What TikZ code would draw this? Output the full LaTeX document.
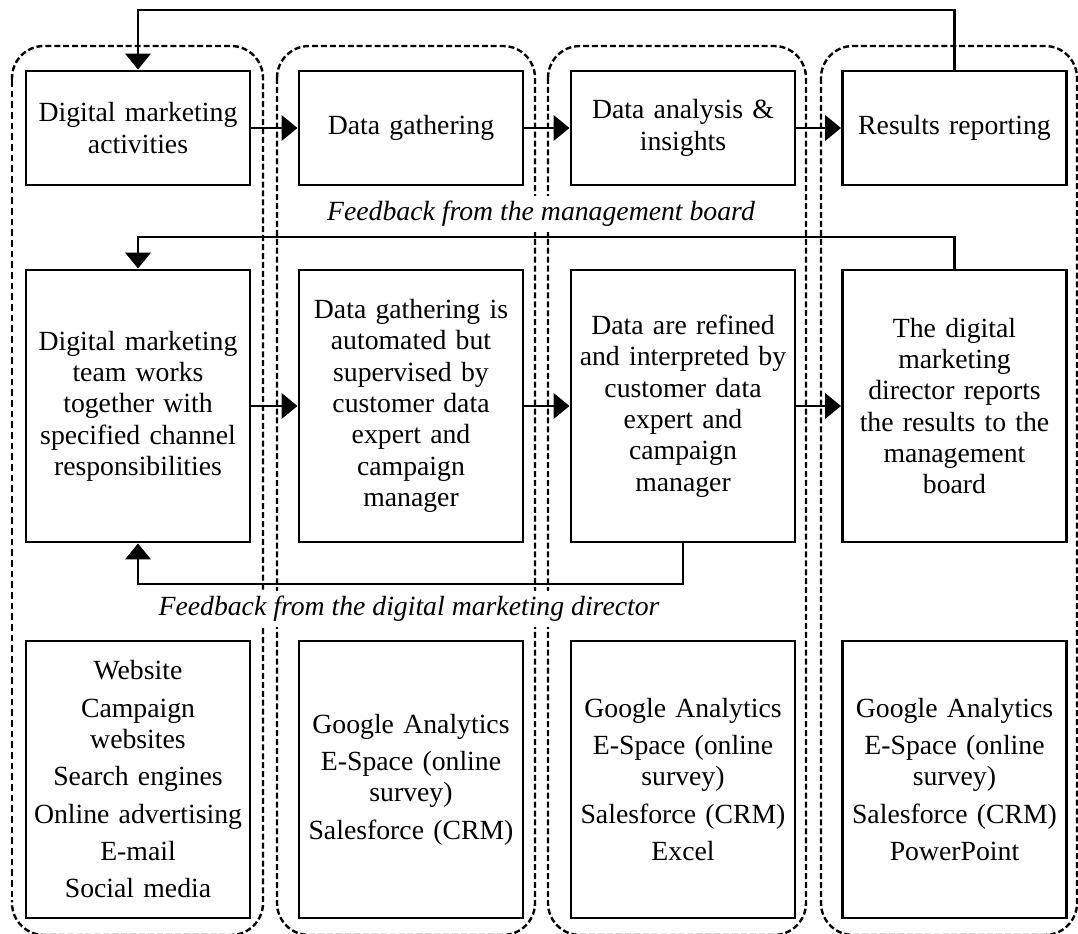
\documentclass[tikz,border=0pt]{standalone}
\usepackage{fontspec}
\setmainfont{Liberation Serif}
\usetikzlibrary{arrows.meta}
\begin{document}
\begin{tikzpicture}[x=0.75pt,y=-0.75pt,
  every node/.style={font=\fontsize{20.8}{23.5}\selectfont},
  box/.style={draw,line width=2.2pt,fill=white,align=center,inner sep=0pt,minimum width=168pt,text width=160pt},
  rowa/.style={box,minimum height=85.5pt},
  rowb/.style={box,minimum height=204pt},
  rowc/.style={box,minimum height=207.75pt},
  col/.style={line width=1.8pt,dash pattern=on 4.5pt off 2.2pt,rounded corners=24pt},
  thincol/.style={line width=0.8pt,dash pattern=on 5pt off 3pt},
  conn/.style={line width=2.2pt},
  arr/.style={conn,-{Triangle[length=12pt,width=19pt]}},
  fb/.style={fill=white,inner sep=4pt,font=\fontsize{20.8}{23.5}\selectfont\itshape}
]
\useasboundingbox (0,0) rectangle (1078,934);
% columns
\draw[col] (12,80) -- (12,46) -- (263,46) -- (263,935) -- (12,935) -- (12,900);
\draw[thincol] (12,80) -- (12,900);
\draw[col] (277,46) rectangle (535,935);
\draw[col] (548,46) rectangle (806,935);
\draw[col] (821,46) rectangle (1077,935);
% feedback labels
\node[fb] (f1) at (541,214) {Feedback from the management board};
\node[fb] (f2) at (409,609) {Feedback from the digital marketing director};
% row 1
\node[rowa] (a1) at (138,128) {Digital marketing\\activities};
\node[rowa] (a2) at (411,128) {Data gathering};
\node[rowa] (a3) at (683,128) {Data analysis \&\\insights};
\node[rowa] (a4) at (954.5,128) {Results reporting};
% row 2
\node[rowb] (b1) at (138,406) {Digital marketing\\team works\\together with\\specified channel\\responsibilities};
\node[rowb] (b2) at (411,406) {Data gathering is\\automated but\\supervised by\\customer data\\expert and\\campaign\\manager};
\node[rowb] (b3) at (683,406) {Data are refined\\and interpreted by\\customer data\\expert and\\campaign\\manager};
\node[rowb] (b4) at (954.5,406) {The digital\\marketing\\director reports\\the results to the\\management\\board};
% row 3
\node[rowc] (c1) at (138,779.5) {Website\\[4.5pt]Campaign\\websites\\[4.5pt]Search engines\\[4.5pt]Online advertising\\[4.5pt]E-mail\\[4.5pt]Social media};
\node[rowc] (c2) at (411,779.5) {Google Analytics\\[4.5pt]E-Space (online\\survey)\\[4.5pt]Salesforce (CRM)};
\node[rowc] (c3) at (683,779.5) {Google Analytics\\[4.5pt]E-Space (online\\survey)\\[4.5pt]Salesforce (CRM)\\[4.5pt]Excel};
\node[rowc] (c4) at (954.5,779.5) {Google Analytics\\[4.5pt]E-Space (online\\survey)\\[4.5pt]Salesforce (CRM)\\[4.5pt]PowerPoint};
% connectors
\draw[arr] (a1.east) -- (a2.west);
\draw[arr] (a2.east) -- (a3.west);
\draw[arr] (a3.east) -- (a4.west);
\draw[arr] (b1.east) -- (b2.west);
\draw[arr] (b2.east) -- (b3.west);
\draw[arr] (b3.east) -- (b4.west);
\coordinate (top) at (138,10);
\coordinate (mid) at (138,237);
\coordinate (low) at (138,584);
\draw[arr] (a4.north) |- (top) -- (a1.north);
\draw[arr] (b4.north) |- (mid) -- (b1.north);
\draw[arr] (b3.south) |- (low) -- (b1.south);
\end{tikzpicture}
\end{document}
